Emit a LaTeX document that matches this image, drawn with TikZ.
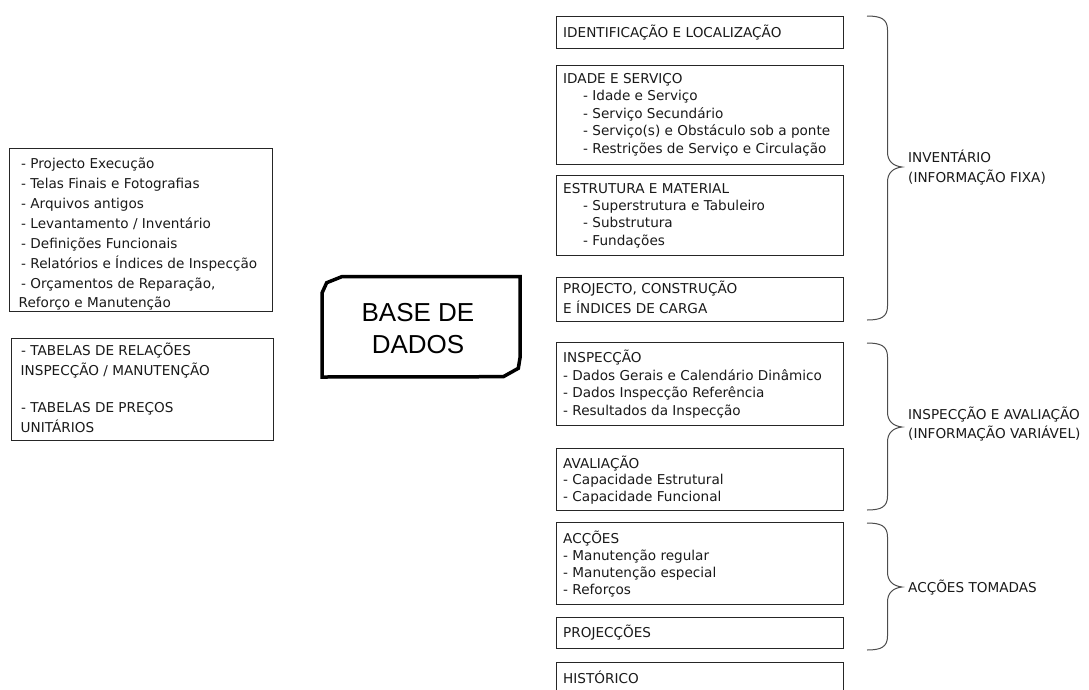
\documentclass[tikz,border=0pt]{standalone}
\usepackage{fontspec}
\setmainfont{DejaVu Sans}
\newfontfamily\dbfont{Liberation Sans}
\begin{document}
\begin{tikzpicture}[x=1pt,y=-1pt,
  box/.style={draw=black!85, line width=1pt, anchor=north west, inner sep=0pt},
  txt/.style={anchor=north west, inner sep=0pt, align=left, text=black!90,
              font=\fontsize{13.6}{#1}\selectfont},
  txt/.default=17.5,
  brace/.style={draw=black!70, line width=1pt},
  dbline/.style={draw=black, line width=3.5pt, line join=miter}
]
\useasboundingbox (0,0) rectangle (1089,689);
\clip (0,0) rectangle (1089,689);
\newcommand{\sub}{\hspace*{20pt}}

% ---- left-hand source boxes
\node[box, minimum width=263, minimum height=163] (l1) at (9,148) {};
\node[txt=20] (l1t) at (18.5,154) {\strut\hspace*{2.5pt}- Projecto Execução\\
\hspace*{2.5pt}- Telas Finais e Fotografias\\
\hspace*{2.5pt}- Arquivos antigos\\
\hspace*{2.5pt}- Levantamento / Inventário\\
\hspace*{2.5pt}- Definições Funcionais\\
\hspace*{2.5pt}- Relatórios e Índices de Inspecção\\
\hspace*{2.5pt}- Orçamentos de Reparação,\\[-1pt]
Reforço e Manutenção};

\node[box, minimum width=262, minimum height=102] (l2) at (11,338) {};
\node[txt=20] (l2t) at (20.5,341) {\strut\hspace*{0.5pt}- TABELAS DE RELAÇÕES\\
INSPECÇÃO / MANUTENÇÃO\\[17pt]
\hspace*{0.5pt}- TABELAS DE PREÇOS\\
UNITÁRIOS};

% ---- central database block
\node[anchor=north, inner sep=0pt, align=center,
      font=\dbfont\fontsize{26}{31.5}\selectfont] (db) at (418,299.65)
      {\strut BASE DE\\DADOS};
\draw[dbline] (322,377) -- (322,293) -- (326.7,282.7) -- (341.7,276.7)
  -- (520,276.7) -- (520,358) -- (518.3,368.3) -- (503.3,376.7) -- cycle;

% ---- right-hand record groups
\node[box, minimum width=287.5, minimum height=32] (ident) at (555.5,16) {};
\node[txt] (identt) at (563,24.75) {\strut IDENTIFICAÇÃO E LOCALIZAÇÃO};

\node[box, minimum width=287.5, minimum height=99] (idade) at (555.5,65) {};
\node[txt=17.5] (idadet) at (563,70.75) {\strut IDADE E SERVIÇO\\
\sub- Idade e Serviço\\
\sub- Serviço Secundário\\
\sub- Serviço(s) e Obstáculo sob a ponte\\
\sub- Restrições de Serviço e Circulação};

\node[box, minimum width=287.5, minimum height=80] (estr) at (555.5,175) {};
\node[txt=17.3] (estrt) at (563,180.9) {\strut ESTRUTURA E MATERIAL\\
\sub- Superstrutura e Tabuleiro\\
\sub- Substrutura\\
\sub- Fundações};

\node[box, minimum width=287.5, minimum height=44] (proj) at (555.5,276.5) {};
\node[txt=20] (projt) at (563,279) {\strut PROJECTO, CONSTRUÇÃO\\
E ÍNDICES DE CARGA};

\node[box, minimum width=287.5, minimum height=83] (insp) at (555.5,342) {};
\node[txt=17.7] (inspt) at (563,349.6) {\strut INSPECÇÃO\\
- Dados Gerais e Calendário Dinâmico\\
- Dados Inspecção Referência\\
- Resultados da Inspecção};

\node[box, minimum width=287.5, minimum height=62] (aval) at (555.5,448) {};
\node[txt=16.7] (avalt) at (563,455.3) {\strut AVALIAÇÃO\\
- Capacidade Estrutural\\
- Capacidade Funcional};

\node[box, minimum width=287.5, minimum height=82] (acc) at (555.5,522) {};
\node[txt=17] (acct) at (563,531.1) {\strut ACÇÕES\\
- Manutenção regular\\
- Manutenção especial\\
- Reforços};

\node[box, minimum width=287.5, minimum height=31] (projc) at (555.5,617) {};
\node[txt] (projct) at (563,624.75) {\strut PROJECÇÕES};

\node[box, minimum width=287.5, minimum height=40] (hist) at (555.5,662) {};
\node[txt] (histt) at (563,670.75) {\strut HISTÓRICO};

% ---- braces grouping the records
\draw[brace] (867,16) .. controls (881,16) and (887.5,19) .. (887.5,30)
  -- (887.5,152) .. controls (887.5,161) and (893,166) .. (902,167)
  .. controls (893,168) and (887.5,173) .. (887.5,182)
  -- (887.5,306) .. controls (887.5,317) and (881,320) .. (867,320);
\node[txt=20] (inv) at (908,148) {\strut INVENTÁRIO\\(INFORMAÇÃO FIXA)};

\draw[brace] (867,343) .. controls (881,343) and (887.5,346) .. (887.5,357)
  -- (887.5,412) .. controls (887.5,421) and (893,426) .. (902,427)
  .. controls (893,428) and (887.5,433) .. (887.5,442)
  -- (887.5,496) .. controls (887.5,507) and (881,510) .. (867,510);
\node[txt=19] (insav) at (908,405.7) {\strut INSPECÇÃO E AVALIAÇÃO\\(INFORMAÇÃO VARIÁVEL)};

\draw[brace] (867,523) .. controls (881,523) and (887.5,526) .. (887.5,537)
  -- (887.5,572) .. controls (887.5,581) and (893,586) .. (902,587)
  .. controls (893,588) and (887.5,593) .. (887.5,602)
  -- (887.5,636) .. controls (887.5,647) and (881,650) .. (867,650);
\node[txt] (acct2) at (908,579.75) {\strut ACÇÕES TOMADAS};
\end{tikzpicture}
\end{document}
